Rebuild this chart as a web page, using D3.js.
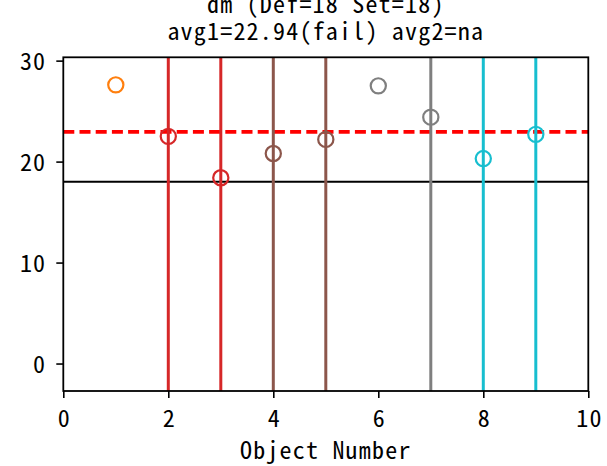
<!DOCTYPE html>
<html>
<head>
<meta charset="utf-8">
<script src="https://cdn.jsdelivr.net/npm/d3@7"></script>
<style>
  html, body { margin: 0; padding: 0; background: #fff; }
  svg { display: block; }
  text { font-family: "Noto Sans Mono CJK JP", "DejaVu Sans Mono", monospace; font-weight: 300; fill: #000; }
</style>
</head>
<body>
<svg id="chart" width="607" height="466"></svg>
<script>
// ---- data ----
const objectNumbers = [1, 2, 3, 4, 5, 6, 7, 8, 9];
const values = [27.6, 22.5, 18.4, 20.8, 22.2, 27.5, 24.4, 20.3, 22.7];
const groups = ["g1", "g2", "g2", "g3", "g3", "g4", "g4", "g5", "g5"];
const flaggedObjects = [2, 3, 4, 5, 7, 8, 9];
const setValue = 18;
const avg1 = 22.94;
const titleLines = ["dm (Def=18 Set=18)", "avg1=22.94(fail) avg2=na"];
const xLabel = "Object Number";
const xTicks = [0, 2, 4, 6, 8, 10];
const yTicks = [0, 10, 20, 30];
const xDomain = [0, 10];
const yDomain = [-2.72, 30.33];

// ---- layout ----
const svg = d3.select("#chart");
const mLeft = 63.3, mRight = 588.3, mTop = 57.3, mBottom = 391;
const fontSize = 24, letterSp = 1.2;

const x = d3.scaleLinear().domain(xDomain).range([mLeft, mRight]);
const y = d3.scaleLinear().domain(yDomain).range([mBottom, mTop]);
const color = d3.scaleOrdinal()
  .domain(["g1", "g2", "g3", "g4", "g5"])
  .range(["#ff7f0e", "#d62728", "#8c564b", "#7f7f7f", "#17becf"]);

const plot = svg.append("g");

// set-value line
plot.append("line")
  .attr("x1", x(xDomain[0])).attr("x2", x(xDomain[1]))
  .attr("y1", y(setValue)).attr("y2", y(setValue))
  .attr("stroke", "#000").attr("stroke-width", 2);

// average line
plot.append("line")
  .attr("x1", x(xDomain[0])).attr("x2", x(xDomain[1]))
  .attr("y1", y(avg1)).attr("y2", y(avg1))
  .attr("stroke", "#ff0000").attr("stroke-width", 3.6)
  .attr("stroke-dasharray", "11,5.2");

// flagged vertical lines
plot.selectAll("line.flag")
  .data(flaggedObjects)
  .join("line")
  .attr("class", "flag")
  .attr("x1", d => x(d)).attr("x2", d => x(d))
  .attr("y1", y(yDomain[0])).attr("y2", y(yDomain[1]))
  .attr("stroke", d => color(groups[objectNumbers.indexOf(d)]))
  .attr("stroke-width", 3);

// points
plot.selectAll("circle")
  .data(objectNumbers)
  .join("circle")
  .attr("cx", d => x(d))
  .attr("cy", (d, i) => y(values[i]))
  .attr("r", 7.6)
  .attr("fill", "none")
  .attr("stroke", (d, i) => color(groups[i]))
  .attr("stroke-width", 2.2);

// frame
svg.append("rect")
  .attr("x", mLeft).attr("y", mTop)
  .attr("width", mRight - mLeft).attr("height", mBottom - mTop)
  .attr("fill", "none").attr("stroke", "#000").attr("stroke-width", 1.8);

// axes
const xAxis = svg.append("g")
  .attr("transform", `translate(0,${mBottom})`)
  .call(d3.axisBottom(x).tickValues(xTicks).tickFormat(d3.format("d")).tickSize(7).tickPadding(5));
const yAxis = svg.append("g")
  .attr("transform", `translate(${mLeft},0)`)
  .call(d3.axisLeft(y).tickValues(yTicks).tickFormat(d3.format("d")).tickSize(7).tickPadding(10));

[xAxis, yAxis].forEach(a => {
  a.select(".domain").remove();
  a.selectAll(".tick line").attr("stroke", "#000").attr("stroke-width", 1.6);
  a.selectAll(".tick text")
    .attr("font-family", null)
    .style("font-size", fontSize + "px")
    .style("letter-spacing", letterSp + "px")
    .attr("fill", "#000");
});
xAxis.selectAll(".tick text").attr("dy", null).attr("y", 36).attr("dominant-baseline", "auto")
  .attr("dx", letterSp / 2);
yAxis.selectAll(".tick text").attr("dy", null).attr("y", 8.6).attr("dominant-baseline", "auto");

// x label
svg.append("text")
  .attr("x", (mLeft + mRight) / 2).attr("y", 459)
  .attr("text-anchor", "middle")
  .style("font-size", fontSize + "px")
  .style("letter-spacing", letterSp + "px")
  .text(xLabel);

// title
svg.selectAll("text.title")
  .data(titleLines)
  .join("text")
  .attr("class", "title")
  .attr("x", (mLeft + mRight) / 2)
  .attr("y", (d, i) => 13 + i * 26.5)
  .attr("text-anchor", "middle")
  .style("font-size", fontSize + "px")
  .style("letter-spacing", letterSp + "px")
  .text(d => d);
</script>
</body>
</html>
